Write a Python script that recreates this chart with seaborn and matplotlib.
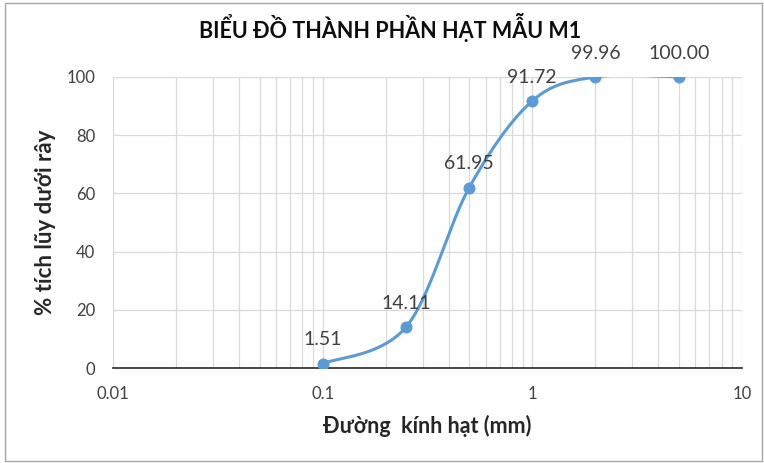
import numpy as np
import pandas as pd
import matplotlib
matplotlib.use("Agg")
import matplotlib.pyplot as plt
import seaborn as sns
from matplotlib.patches import Rectangle

# Sieve analysis of sample M1
diameters = [0.1, 0.25, 0.5, 1, 2, 5]
passing = [1.51, 14.11, 61.95, 91.72, 99.96, 100.00]
x_ticks = [0.01, 0.1, 1, 10]
x_tick_labels = ["0.01", "0.1", "1", "10"]
y_ticks = [0, 20, 40, 60, 80, 100]

sns.set_theme(style="white")
plt.rcParams["font.family"] = ["Lato", "DejaVu Sans"]

blue = "#5B9BD5"
grid_c = "#D9D9D9"


def smooth_curve(xs, ys, n=40):
    """Bezier smoothing through the points (Catmull-Rom control points) in log-x space."""
    px = np.log10(np.asarray(xs, float))
    py = np.asarray(ys, float)
    P = np.column_stack([px, py])
    P = np.vstack([P[0], P, P[-1]])
    out = []
    t = np.linspace(0, 1, n)[:, None]
    for i in range(1, len(P) - 2):
        p0, p1, p2, p3 = P[i - 1], P[i], P[i + 1], P[i + 2]
        c1 = p1 + (p2 - p0) / 6.0
        c2 = p2 - (p3 - p1) / 6.0
        seg = ((1 - t) ** 3) * p1 + 3 * ((1 - t) ** 2) * t * c1 + 3 * (1 - t) * t ** 2 * c2 + t ** 3 * p2
        out.append(seg if i == 1 else seg[1:])
    pts = np.vstack(out)
    return 10 ** pts[:, 0], pts[:, 1]


fig = plt.figure(figsize=(7.64, 4.63), dpi=100)
ax = fig.add_axes([0.148, 0.205, 0.823, 0.629])

cx, cy = smooth_curve(diameters, passing)
curve = pd.DataFrame({"d": cx, "p": cy})
pts = pd.DataFrame({"d": diameters, "p": passing})

ax.set_xscale("log")
sns.lineplot(data=curve, x="d", y="p", sort=False, color=blue, linewidth=2.2, ax=ax, zorder=3)
sns.scatterplot(data=pts, x="d", y="p", color=blue, s=75, edgecolor=blue, linewidth=0, ax=ax, zorder=4)

for d, p in zip(diameters, passing):
    ax.annotate(f"{p:.2f}", (d, p), xytext=(0, 11), textcoords="offset points",
                ha="center", va="bottom", fontsize=14, color="#404040", zorder=5)

ax.set_xlim(0.01, 10)
ax.set_ylim(0, 100)
ax.set_xticks(x_ticks)
ax.set_xticklabels(x_tick_labels)
ax.set_yticks(y_ticks)
ax.xaxis.set_minor_locator(matplotlib.ticker.LogLocator(base=10, subs=np.arange(2, 10)))
ax.xaxis.set_minor_formatter(matplotlib.ticker.NullFormatter())
ax.grid(True, which="major", axis="both", color=grid_c, linewidth=0.9)
ax.grid(True, which="minor", axis="x", color=grid_c, linewidth=0.9)
ax.set_axisbelow(True)

for side in ["top", "right", "left"]:
    ax.spines[side].set_visible(False)
ax.spines["bottom"].set_color("#262626")
ax.spines["bottom"].set_linewidth(1.2)
ax.spines["bottom"].set_zorder(2)

ax.tick_params(axis="both", which="both", length=0, labelsize=12, colors="#404040")
ax.tick_params(axis="y", pad=13)
ax.tick_params(axis="x", pad=13)

ax.set_xlabel("Đường  kính hạt (mm)", fontsize=15.5, fontweight="bold", color="#262626", labelpad=9)
ax.set_ylabel("% tích lũy dưới rây", fontsize=16, fontweight="bold", color="#262626", labelpad=7)

fig.text(0.510, 0.941, "BIỂU ĐỒ THÀNH PHẦN HẠT MẪU M1", ha="center", va="center",
         fontsize=15.5, fontweight="bold", color="#0D0D0D")

fig.patches.append(Rectangle((0.007, 0.004), 0.99, 0.99, transform=fig.transFigure,
                             fill=False, edgecolor="#A6A6A6", linewidth=1.0))

fig.savefig("out.png", dpi=100, facecolor="white")
